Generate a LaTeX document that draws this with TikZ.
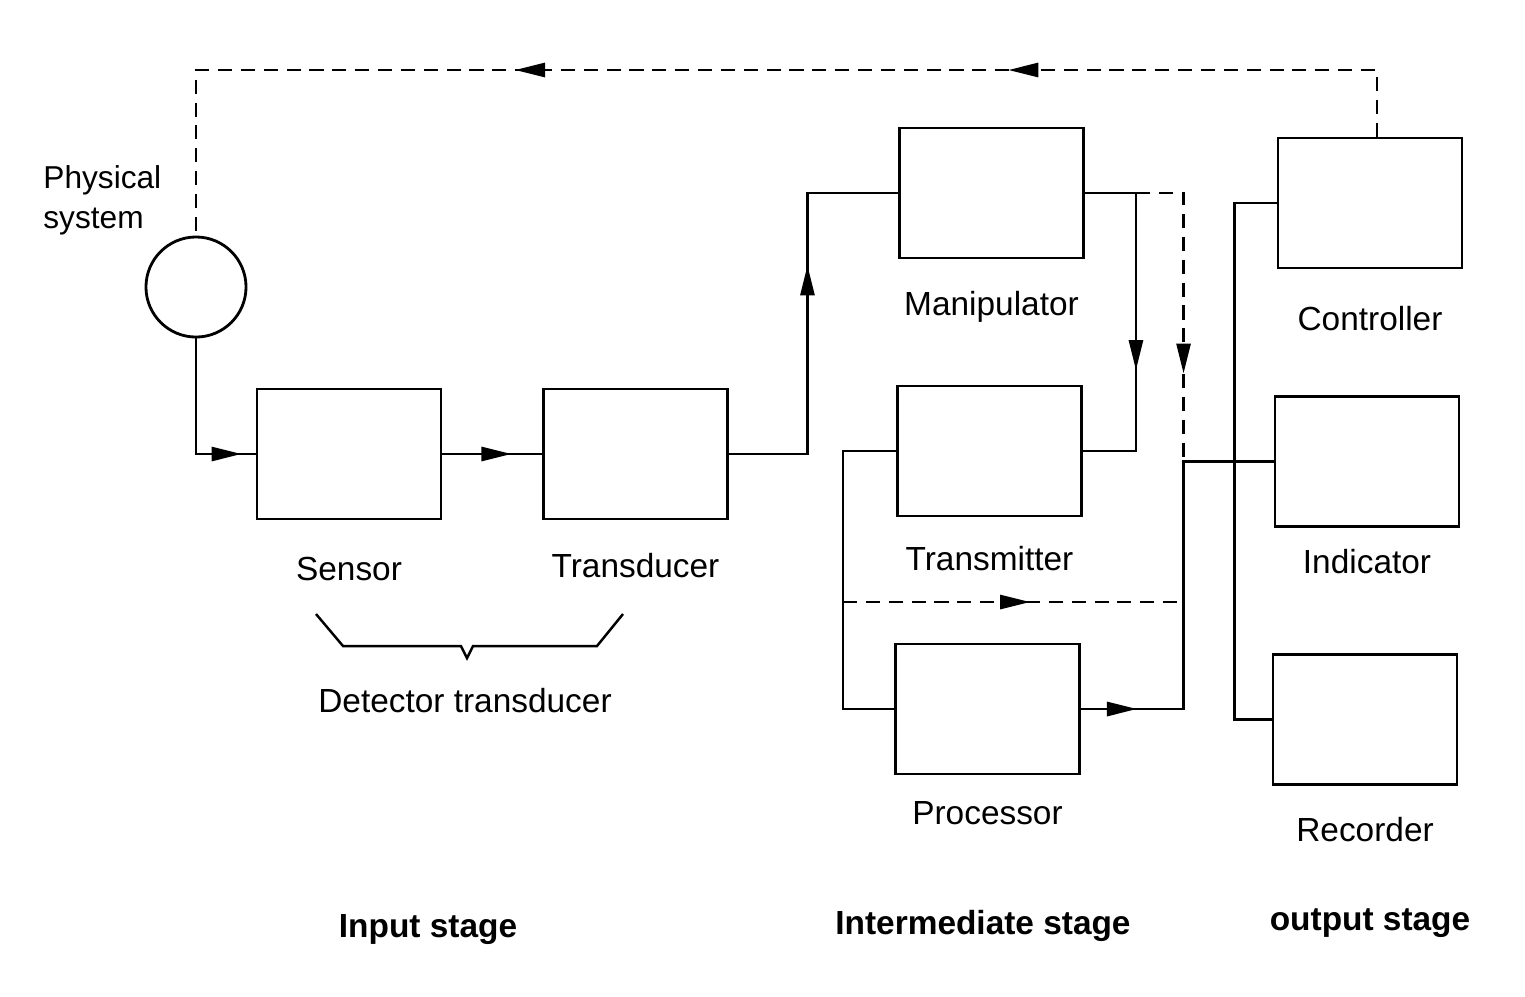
\documentclass[tikz,border=0pt]{standalone}
\usepackage{fontspec}
\setmainfont{Liberation Sans}
\usetikzlibrary{arrows.meta,positioning,decorations.markings}

\tikzset{
  tipat/.style={postaction={decorate,decoration={markings,
      mark=at position #1 with {\arrow{Triangle[length=3mm,width=1.4mm]}}}}},
}

\begin{document}
\begin{tikzpicture}[x=0.01cm,y=-0.01cm,line width=0.8pt,font=\fontsize{9.5}{11.4}\selectfont]
    \tikzstyle{blk}=[draw,minimum width=1.84cm,minimum height=1.3cm,inner sep=0pt]
    \tikzstyle{lbl}=[inner sep=0pt,text height=1.7ex,text depth=0.5ex]
    \tikzstyle{stage}=[font=\fontsize{9.5}{11.4}\selectfont\bfseries]
    \tikzstyle{fb}=[dash pattern=on 4pt off 2.5pt]
    \useasboundingbox (0,0) rectangle (1525,996);
    % physical system
    \node[draw,circle,minimum size=1cm,inner sep=0pt] (sys) at (196,287) {};
    \node[anchor=west,align=left,inner sep=0pt,font=\fontsize{9}{11.4}\selectfont] (syslbl) at (42,200) {Physical\\system};
    % input stage
    \node[blk] (sensor)     at (349,454)   {};
    \node[blk] (transducer) at (635.5,454) {};
    % intermediate stage
    \node[blk] (manipulator) at (991.5,193) {};
    \node[blk] (transmitter) at (989.5,451) {};
    \node[blk] (processor)   at (987.5,709) {};
    % output stage
    \node[blk] (controller) at (1370,203)   {};
    \node[blk] (indicator)  at (1367,461.5) {};
    \node[blk] (recorder)   at (1365,719.5) {};
    \foreach \b/\t/\d in {sensor/Sensor/0.27,transducer/Transducer/0.24,manipulator/Manipulator/0.23,transmitter/Transmitter/0.2,processor/Processor/0.16,controller/Controller/0.28,indicator/Indicator/0.13,recorder/Recorder/0.23}
      \node[lbl,below=\d cm of \b] (\b lbl) {\t};
    % junctions
    \path (manipulator.east) ++(51,0) coordinate (mj);
    \path (indicator.west) ++(-90,0) coordinate (ij);
    \path (transmitter.west) ++(-53,151) coordinate (tp);
    \path (controller.north) ++(7,0) coordinate (cn);
    \coordinate (topline) at (0,70);
    % signal path
    \draw[tipat=1.61cm] (sys.south) |- (sensor.west);
    \draw[tipat=0.69cm] (sensor.east) -- (transducer.west);
    \draw[tipat=2.67cm] (transducer.east) -- ++(78.5,0) |- (manipulator.west);
    \draw[tipat=2.28cm] (manipulator.east) -- (mj) |- (transmitter.east);
    \draw[fb,tipat=2.28cm] (mj) -- (mj -| ij) -- (ij);
    \draw (transmitter.west) -- ++(-53,0) |- (processor.west);
    \draw[fb,tipat=1.87cm] (tp) -- (tp -| ij);
    \draw[tipat=0.56cm] (processor.east) -| (ij) -- (indicator.west);
    \draw (controller.west) -- ++(-42,0) |- (recorder.west);
    % feedback to physical system
    \draw[fb,tipat=4.35cm,tipat=9.28cm] (cn) -- (cn |- topline) -| (sys.north);
    % brace
    \draw[line width=0.7pt] (316,614) -- (343,646) -- (461,646) -- (467,658) -- (473,646) -- (597,646) -- (623,614);
    \node (dtlbl) at (465,701) {Detector transducer};
    % stages
    \node[stage] (instage)  at (428,930)  {Input stage};
    \node[stage] (midstage) at (983,926)  {Intermediate stage};
    \node[stage] (outstage) at (1370,923) {output stage};
\end{tikzpicture}
\end{document}
